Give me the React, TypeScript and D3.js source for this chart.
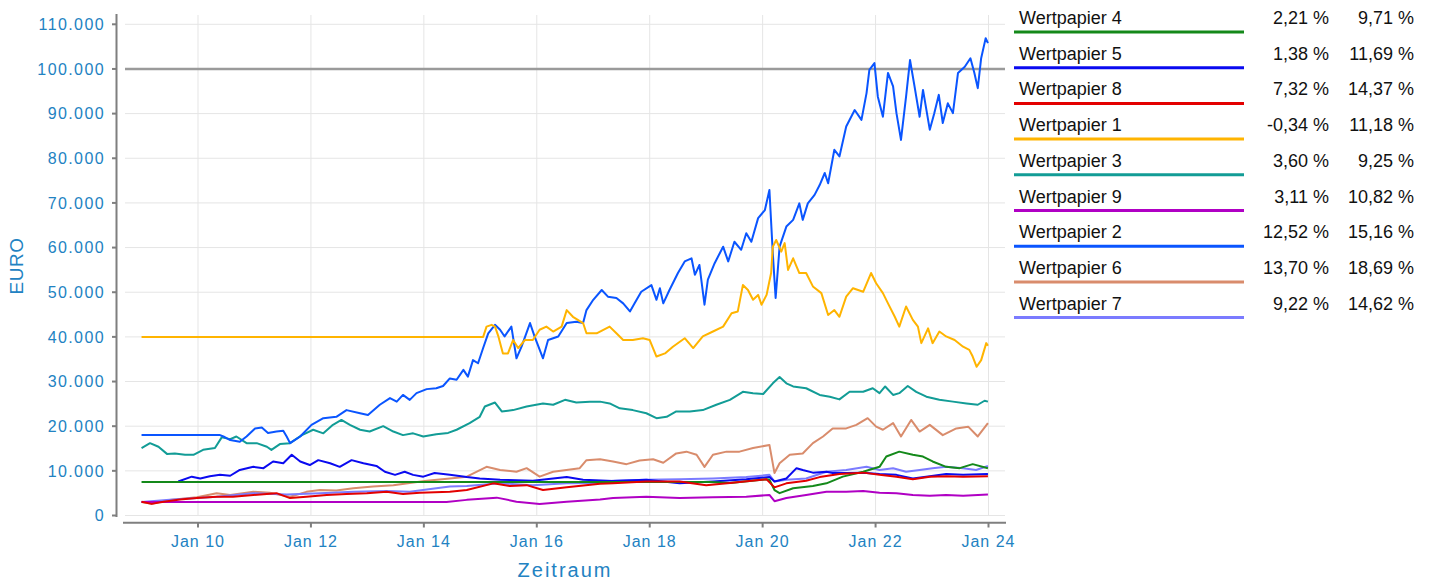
import React from "react";
import * as d3 from "d3";

// ---- data: [decimal year, value in EUR] ----
const w2: [number, number][] = [
  [2009.0, 18000], [2010.39, 18000], [2010.45, 17700], [2010.57, 16900], [2010.74, 16500], [2010.86, 17700],
  [2011.01, 19500], [2011.13, 19700], [2011.24, 18500], [2011.39, 18800], [2011.51, 19000], [2011.57, 17700],
  [2011.63, 16200], [2011.81, 17700], [2012.01, 20300], [2012.22, 21800], [2012.45, 22100], [2012.63, 23600],
  [2012.87, 22900], [2013.01, 22500], [2013.22, 24800], [2013.4, 26300], [2013.52, 25500], [2013.63, 27000],
  [2013.75, 25900], [2013.87, 27400], [2014.05, 28300], [2014.22, 28500], [2014.34, 29000], [2014.46, 30700],
  [2014.58, 30400], [2014.7, 32600], [2014.78, 31100], [2014.87, 34800], [2014.96, 34100], [2015.05, 37500],
  [2015.14, 40800], [2015.26, 42700], [2015.35, 41600], [2015.43, 40100], [2015.55, 42300], [2015.64, 35200],
  [2015.73, 37800], [2015.88, 43100], [2015.96, 40100], [2016.11, 35200], [2016.2, 39300], [2016.38, 40100],
  [2016.53, 43100], [2016.7, 43400], [2016.82, 43100], [2016.88, 46000], [2017.0, 48300], [2017.15, 50500],
  [2017.26, 49000], [2017.41, 48700], [2017.53, 47500], [2017.65, 45700], [2017.73, 47500], [2017.85, 50100],
  [2018.03, 51600], [2018.12, 48300], [2018.18, 50900], [2018.24, 47500], [2018.35, 50500], [2018.5, 54300],
  [2018.62, 56900], [2018.74, 57600], [2018.8, 53900], [2018.88, 56100], [2018.97, 47200], [2019.03, 52800],
  [2019.15, 56500], [2019.3, 60200], [2019.39, 56900], [2019.5, 61300], [2019.62, 59500], [2019.71, 63200],
  [2019.8, 61300], [2019.92, 66600], [2020.04, 68400], [2020.12, 72900], [2020.18, 58700], [2020.23, 48700],
  [2020.3, 60200], [2020.42, 64700], [2020.54, 66200], [2020.65, 69900], [2020.71, 66200], [2020.8, 69900],
  [2020.92, 71800], [2021.01, 74000], [2021.1, 76700], [2021.16, 74400], [2021.27, 81900], [2021.36, 80400],
  [2021.48, 87100], [2021.63, 90800], [2021.75, 88600], [2021.84, 94600], [2021.89, 99800], [2021.98, 101300],
  [2022.04, 93800], [2022.13, 89300], [2022.22, 99100], [2022.31, 96100], [2022.37, 90100], [2022.45, 84100],
  [2022.54, 93800], [2022.61, 102000], [2022.69, 96100], [2022.78, 89300], [2022.84, 95300], [2022.96, 86400],
  [2023.04, 90100], [2023.12, 94200], [2023.19, 87900], [2023.28, 92300], [2023.37, 90100], [2023.46, 99100],
  [2023.58, 100500], [2023.68, 102400], [2023.75, 99100], [2023.81, 95700], [2023.87, 102400], [2023.95, 106900],
  [2023.99, 105800],
];

const w1: [number, number][] = [
  [2009.0, 40000], [2015.05, 40000], [2015.11, 42300], [2015.2, 42700], [2015.26, 42300], [2015.32, 40100],
  [2015.4, 36300], [2015.49, 36300], [2015.58, 39300], [2015.67, 37500], [2015.79, 39300], [2015.93, 39300],
  [2016.05, 41600], [2016.17, 42300], [2016.29, 41200], [2016.44, 42300], [2016.53, 46000], [2016.64, 44500],
  [2016.82, 43100], [2016.88, 40800], [2017.06, 40800], [2017.29, 42300], [2017.41, 40800], [2017.53, 39300],
  [2017.7, 39300], [2017.88, 39700], [2018.0, 39300], [2018.12, 35600], [2018.27, 36300], [2018.41, 37800],
  [2018.62, 39700], [2018.77, 37500], [2018.94, 40100], [2019.12, 41200], [2019.3, 42300], [2019.45, 45300],
  [2019.56, 45700], [2019.65, 51600], [2019.74, 50500], [2019.83, 48300], [2019.92, 49400], [2019.98, 47200],
  [2020.07, 49400], [2020.15, 54300], [2020.18, 60200], [2020.24, 61700], [2020.33, 59100], [2020.39, 61000],
  [2020.45, 55000], [2020.54, 57600], [2020.65, 54300], [2020.77, 54300], [2020.89, 51300], [2021.04, 49800],
  [2021.16, 44900], [2021.27, 46000], [2021.36, 44500], [2021.48, 49000], [2021.6, 50900], [2021.78, 50100],
  [2021.92, 54300], [2022.01, 52000], [2022.13, 49800], [2022.22, 47500], [2022.34, 44500], [2022.42, 42300],
  [2022.54, 46800], [2022.66, 43800], [2022.75, 42300], [2022.81, 38600], [2022.93, 41900], [2023.01, 38600],
  [2023.13, 41200], [2023.25, 40100], [2023.4, 39300], [2023.55, 37800], [2023.66, 37100], [2023.72, 35600],
  [2023.79, 33300], [2023.87, 34800], [2023.96, 38600], [2023.99, 38000],
];

const w3: [number, number][] = [
  [2009.0, 15100], [2009.15, 16200], [2009.3, 15400], [2009.45, 13800], [2009.59, 13900], [2009.77, 13600],
  [2009.92, 13600], [2010.09, 14700], [2010.3, 15100], [2010.42, 17500], [2010.57, 17100], [2010.68, 17700],
  [2010.86, 16200], [2011.04, 16200], [2011.22, 15400], [2011.3, 14700], [2011.45, 16000], [2011.63, 16200],
  [2011.84, 18000], [2012.04, 19200], [2012.22, 18400], [2012.39, 20300], [2012.54, 21400], [2012.69, 20300],
  [2012.87, 19200], [2013.04, 18800], [2013.28, 20000], [2013.46, 18800], [2013.63, 18000], [2013.81, 18400],
  [2013.99, 17700], [2014.22, 18200], [2014.43, 18500], [2014.58, 19200], [2014.81, 20700], [2014.99, 22100],
  [2015.08, 24400], [2015.26, 25300], [2015.38, 23300], [2015.58, 23600], [2015.82, 24400], [2016.11, 25100],
  [2016.29, 24800], [2016.5, 25900], [2016.7, 25300], [2016.94, 25500], [2017.12, 25500], [2017.29, 25100],
  [2017.47, 24000], [2017.7, 23600], [2017.94, 22900], [2018.12, 21800], [2018.3, 22100], [2018.47, 23300],
  [2018.71, 23300], [2018.94, 23600], [2019.18, 24800], [2019.42, 25900], [2019.65, 27700], [2019.83, 27400],
  [2020.01, 27200], [2020.18, 29600], [2020.3, 31000], [2020.42, 29600], [2020.54, 28900], [2020.77, 28500],
  [2021.01, 27000], [2021.19, 26600], [2021.36, 26000], [2021.54, 27700], [2021.78, 27700], [2021.95, 28500],
  [2022.07, 27400], [2022.17, 28900], [2022.31, 27000], [2022.42, 27400], [2022.57, 29000], [2022.72, 27700],
  [2022.9, 26600], [2023.13, 25900], [2023.37, 25500], [2023.61, 25100], [2023.81, 24800], [2023.93, 25700],
  [2023.99, 25500],
];

const w6: [number, number][] = [
  [2009.0, 3000], [2009.18, 2600], [2009.5, 3500], [2009.98, 4100], [2010.33, 5000], [2010.57, 4600],
  [2010.98, 5300], [2011.27, 5100], [2011.63, 4200], [2011.92, 5300], [2012.16, 5700], [2012.45, 5600],
  [2012.75, 6100], [2013.1, 6500], [2013.46, 6800], [2013.75, 7300], [2014.05, 7800], [2014.46, 8300],
  [2014.76, 8700], [2015.11, 10900], [2015.35, 10200], [2015.64, 9800], [2015.82, 10600], [2016.05, 8700],
  [2016.29, 9800], [2016.76, 10600], [2016.88, 12400], [2017.12, 12600], [2017.35, 12100], [2017.59, 11500],
  [2017.82, 12300], [2018.06, 12600], [2018.24, 11800], [2018.47, 13900], [2018.65, 14300], [2018.83, 13600],
  [2018.97, 10900], [2019.12, 13600], [2019.36, 14300], [2019.59, 14300], [2019.83, 15100], [2020.12, 15800],
  [2020.21, 9500], [2020.3, 11700], [2020.48, 13600], [2020.71, 13900], [2020.89, 16200], [2021.07, 17700],
  [2021.24, 19500], [2021.48, 19500], [2021.66, 20300], [2021.86, 21800], [2022.01, 19900], [2022.13, 19200],
  [2022.31, 20700], [2022.45, 17700], [2022.63, 21400], [2022.78, 18800], [2022.96, 20300], [2023.19, 18000],
  [2023.43, 19500], [2023.64, 19900], [2023.81, 17700], [2023.99, 20700],
];

const w4: [number, number][] = [
  [2009.0, 7500], [2019.08, 7500], [2019.42, 7300], [2019.77, 7700], [2020.07, 8100], [2020.12, 8000],
  [2020.21, 5700], [2020.3, 5000], [2020.54, 6100], [2020.89, 6600], [2021.13, 7200], [2021.42, 8700],
  [2021.78, 9800], [2022.07, 10900], [2022.19, 13200], [2022.42, 14300], [2022.66, 13600], [2022.84, 13200],
  [2023.01, 12100], [2023.25, 10900], [2023.49, 10600], [2023.72, 11500], [2023.99, 10600],
];

const w5: [number, number][] = [
  [2009.65, 7600], [2009.89, 8700], [2010.04, 8300], [2010.21, 8800], [2010.39, 9100], [2010.57, 8900],
  [2010.74, 10200], [2010.98, 10900], [2011.16, 10600], [2011.33, 12100], [2011.51, 11700], [2011.66, 13600],
  [2011.81, 12100], [2011.98, 11300], [2012.13, 12400], [2012.34, 11700], [2012.51, 10900], [2012.72, 12400],
  [2012.93, 11700], [2013.16, 11100], [2013.31, 9800], [2013.49, 9100], [2013.66, 9800], [2013.81, 9100],
  [2013.99, 8700], [2014.19, 9500], [2014.46, 9100], [2014.76, 8600], [2014.99, 8300], [2015.35, 8000],
  [2015.93, 7800], [2016.53, 8600], [2016.82, 8000], [2017.35, 7700], [2017.94, 8000], [2018.53, 7200],
  [2019.12, 7600], [2019.71, 8100], [2020.12, 8600], [2020.21, 7600], [2020.42, 8300], [2020.6, 10600],
  [2020.71, 10200], [2020.89, 9600], [2021.13, 9800], [2021.24, 9500], [2021.48, 9500], [2021.78, 9600],
  [2022.07, 9300], [2022.37, 9100], [2022.66, 8300], [2022.96, 8800], [2023.25, 9300], [2023.55, 9100],
  [2023.99, 9300],
];

const w8: [number, number][] = [
  [2009.0, 3100], [2009.18, 2600], [2009.39, 3100], [2009.68, 3600], [2009.98, 3900], [2010.33, 4200],
  [2010.62, 4200], [2010.98, 4600], [2011.39, 5000], [2011.63, 3900], [2011.92, 4200], [2012.28, 4600],
  [2012.63, 4800], [2012.99, 5000], [2013.34, 5300], [2013.63, 4800], [2013.93, 5100], [2014.46, 5300],
  [2014.76, 5700], [2015.23, 7200], [2015.52, 6600], [2015.82, 6800], [2016.11, 5700], [2016.53, 6300],
  [2017.12, 7100], [2017.35, 7200], [2017.94, 7600], [2018.53, 7600], [2019.0, 6800], [2019.42, 7300],
  [2020.07, 8100], [2020.21, 6300], [2020.42, 7200], [2020.77, 7800], [2021.01, 8600], [2021.36, 9300],
  [2021.78, 9600], [2022.07, 9100], [2022.37, 8700], [2022.66, 8100], [2022.96, 8700], [2023.25, 8800],
  [2023.55, 8700], [2023.99, 8800],
];

const w9: [number, number][] = [
  [2009.0, 3000], [2014.4, 3000], [2014.76, 3500], [2015.29, 4000], [2015.64, 3100], [2016.05, 2600],
  [2016.53, 3100], [2017.12, 3600], [2017.35, 3900], [2017.94, 4200], [2018.53, 3900], [2019.12, 4100],
  [2019.71, 4200], [2020.12, 4600], [2020.21, 3200], [2020.42, 3900], [2020.77, 4600], [2021.13, 5300],
  [2021.48, 5300], [2021.78, 5500], [2022.07, 5100], [2022.37, 5000], [2022.66, 4600], [2022.96, 4400],
  [2023.25, 4600], [2023.55, 4400], [2023.99, 4700],
];

const w7: [number, number][] = [
  [2009.0, 3000], [2009.5, 3500], [2010.33, 4200], [2010.98, 5000], [2011.57, 4700], [2012.16, 5000],
  [2012.75, 5300], [2013.34, 5500], [2013.75, 5300], [2014.22, 6100], [2014.46, 6500], [2014.76, 6600],
  [2015.35, 7200], [2015.93, 6800], [2016.53, 7200], [2017.12, 7300], [2017.35, 7800], [2017.94, 8000],
  [2018.53, 8100], [2019.12, 8300], [2019.71, 8600], [2020.12, 9100], [2020.21, 7600], [2020.42, 8000],
  [2020.77, 8300], [2021.13, 9800], [2021.48, 10200], [2021.84, 10900], [2022.07, 10200], [2022.31, 10600],
  [2022.54, 9800], [2022.78, 10200], [2023.01, 10600], [2023.25, 10900], [2023.55, 10600], [2023.78, 10200],
  [2023.99, 11100],
];

const legendNames = ["Wertpapier 4", "Wertpapier 5", "Wertpapier 8", "Wertpapier 1", "Wertpapier 3", "Wertpapier 9", "Wertpapier 2", "Wertpapier 6", "Wertpapier 7"];
const legendCol1 = ["2,21 %", "1,38 %", "7,32 %", "-0,34 %", "3,60 %", "3,11 %", "12,52 %", "13,70 %", "9,22 %"];
const legendCol2 = ["9,71 %", "11,69 %", "14,37 %", "11,18 %", "9,25 %", "10,82 %", "15,16 %", "18,69 %", "14,62 %"];
const legendColors = ["#14891a", "#0a0af0", "#e30000", "#ffb400", "#129c96", "#b000c4", "#0a55ff", "#d98c6c", "#7b7bff"];

const yTicks = [0, 10000, 20000, 30000, 40000, 50000, 60000, 70000, 80000, 90000, 100000, 110000];
const xTicks = [2010, 2012, 2014, 2016, 2018, 2020, 2022, 2024];
const referenceValue = 100000;

// draw order (bottom -> top)
const drawOrder: { data: [number, number][]; color: string }[] = [
  { data: w6, color: legendColors[7] },
  { data: w7, color: legendColors[8] },
  { data: w9, color: legendColors[5] },
  { data: w3, color: legendColors[4] },
  { data: w2, color: legendColors[6] },
  { data: w1, color: legendColors[3] },
  { data: w5, color: legendColors[1] },
  { data: w4, color: legendColors[0] },
  { data: w8, color: legendColors[2] },
];

const FONT = "'Liberation Sans', Arial, Helvetica, sans-serif";
const AXIS_COLOR = "#2282c2";

export default function App() {
  const W = 1432, H = 582;
  const x = d3.scaleLinear().domain([2010, 2024]).range([198, 988.5]);
  const y = d3.scaleLinear().domain([0, 110000]).range([515.5, 24.3]);
  const plotL = 125, plotR = 1005, plotT = 15, plotB = 516;
  const line = d3.line<[number, number]>().x((d) => x(d[0])).y((d) => y(d[1]));
  const fmt = (v: number) => d3.format(",")(v).replace(/,/g, ".");

  return (
    <svg width={W} height={H} style={{ position: "absolute", left: 0, top: 0, background: "#fff" }} fontFamily={FONT}>
      {/* grid */}
      {yTicks.map((t) => (
        <line key={"gy" + t} x1={plotL} x2={plotR} y1={y(t)} y2={y(t)} stroke="#e5e5e5" strokeWidth={1} />
      ))}
      {xTicks.map((t) => (
        <line key={"gx" + t} x1={x(t)} x2={x(t)} y1={plotT} y2={plotB} stroke="#e5e5e5" strokeWidth={1} />
      ))}
      {/* reference line */}
      <line x1={plotL} x2={plotR} y1={y(referenceValue)} y2={y(referenceValue)} stroke="#9a9a9a" strokeWidth={2.5} />
      {/* series */}
      {drawOrder.map((s, i) => (
        <path key={"s" + i} d={line(s.data) || ""} fill="none" stroke={s.color} strokeWidth={2} strokeLinejoin="round" />
      ))}
      {/* y axis */}
      <line x1={116.5} x2={116.5} y1={14} y2={517} stroke="#7f7f7f" strokeWidth={2} />
      {yTicks.map((t) => (
        <g key={"yt" + t}>
          <line x1={112} x2={116.5} y1={y(t)} y2={y(t)} stroke="#7f7f7f" strokeWidth={2} />
          <text x={105} y={y(t)} dy="0.36em" textAnchor="end" fontSize={16} letterSpacing={1.4} fill={AXIS_COLOR}>
            {fmt(t)}
          </text>
        </g>
      ))}
      {/* x axis */}
      <line x1={123} x2={1006} y1={522.7} y2={522.7} stroke="#7f7f7f" strokeWidth={2} />
      {xTicks.map((t) => (
        <g key={"xt" + t}>
          <line x1={x(t)} x2={x(t)} y1={522.7} y2={527.5} stroke="#7f7f7f" strokeWidth={2} />
          <text x={x(t)} y={547} textAnchor="middle" fontSize={16} letterSpacing={1} fill={AXIS_COLOR}>
            {"Jan " + String(t).slice(2)}
          </text>
        </g>
      ))}
      {/* axis titles */}
      <text x={565} y={577} textAnchor="middle" fontSize={20} letterSpacing={2} fill={AXIS_COLOR}>Zeitraum</text>
      <text transform="translate(23,266) rotate(-90)" textAnchor="middle" fontSize={19} letterSpacing={0.5} fill={AXIS_COLOR}>EURO</text>
      {/* legend */}
      {legendNames.map((n, i) => {
        const base = 24 + i * 35.7;
        return (
          <g key={"lg" + i}>
            <text x={1019} y={base} fontSize={18} fill="#111">{n}</text>
            <line x1={1014} x2={1244} y1={base + 8} y2={base + 8} stroke={legendColors[i]} strokeWidth={3} />
            <text x={1329} y={base} textAnchor="end" fontSize={18} fill="#111">{legendCol1[i]}</text>
            <text x={1414} y={base} textAnchor="end" fontSize={18} fill="#111">{legendCol2[i]}</text>
          </g>
        );
      })}
    </svg>
  );
}
